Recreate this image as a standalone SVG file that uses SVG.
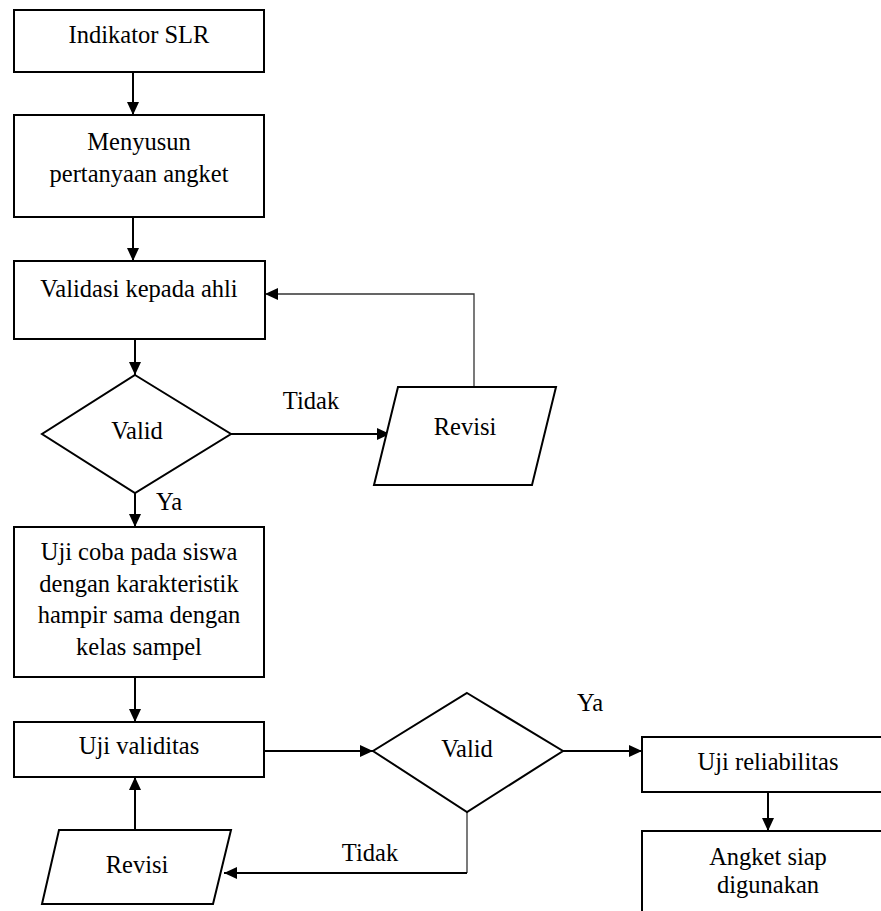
<svg xmlns="http://www.w3.org/2000/svg" width="881" height="911" viewBox="0 0 881 911">
  <style>
    .n { fill: #fff; stroke: #000; stroke-width: 2; }
    .t { font-family: "Liberation Serif", "Times New Roman", serif; font-size: 24.5px; fill: #000; text-anchor: middle; }
    .c { fill: none; stroke: #000; stroke-width: 2; }
    .thin { fill: none; stroke: #333; stroke-width: 1.3; }
  </style>
  <defs>
    <marker id="ah" markerUnits="userSpaceOnUse" markerWidth="14" markerHeight="12" viewBox="0 0 14 12" refX="13" refY="6" orient="auto">
      <path d="M0,0 L13,6 L0,12 z" fill="#000"/>
    </marker>
  </defs>
  <rect x="0" y="0" width="881" height="911" fill="#fff"/>

  <g id="connectors">
    <line class="c" x1="133" y1="72" x2="133" y2="115" marker-end="url(#ah)"/>
    <line class="c" x1="133" y1="217" x2="133" y2="261" marker-end="url(#ah)"/>
    <line class="c" x1="135" y1="339" x2="135" y2="375" marker-end="url(#ah)"/>
    <line class="c" x1="231" y1="434" x2="390" y2="434" marker-end="url(#ah)"/>
    <polyline class="thin" points="474,387 474,294 265,294" marker-end="url(#ah)"/>
    <line class="c" x1="135" y1="493" x2="135" y2="527" marker-end="url(#ah)"/>
    <line class="c" x1="135" y1="677" x2="135" y2="722" marker-end="url(#ah)"/>
    <line class="c" x1="264" y1="751" x2="373" y2="751" marker-end="url(#ah)"/>
    <line class="c" x1="563" y1="751" x2="642" y2="751" marker-end="url(#ah)"/>
    <line class="c" x1="768" y1="792" x2="768" y2="831" marker-end="url(#ah)"/>
    <line class="thin" x1="467" y1="812" x2="467" y2="873"/>
    <line class="c" x1="467" y1="873" x2="224" y2="873" marker-end="url(#ah)"/>
    <line class="c" x1="135" y1="830" x2="135" y2="777" marker-end="url(#ah)"/>
    <text class="t" x="311" y="409">Tidak</text>
    <text class="t" x="169" y="510">Ya</text>
    <text class="t" x="590" y="711">Ya</text>
    <text class="t" x="370" y="861">Tidak</text>
  </g>

  <g id="indikator">
    <rect class="n" x="14" y="10" width="250" height="62"/>
    <text class="t" x="139" y="43">Indikator SLR</text>
  </g>
  <g id="menyusun">
    <rect class="n" x="14" y="115" width="250" height="102"/>
    <text class="t" x="139" y="150">Menyusun</text>
    <text class="t" x="139" y="182">pertanyaan angket</text>
  </g>
  <g id="validasi">
    <rect class="n" x="14" y="261" width="251" height="78"/>
    <text class="t" x="139" y="297">Validasi kepada ahli</text>
  </g>
  <g id="valid1">
    <polygon class="n" points="135,375 231,434 135,493 42,434"/>
    <text class="t" x="137" y="439">Valid</text>
  </g>
  <g id="revisi1">
    <polygon class="n" points="398,387 556,387 532,485 374,485"/>
    <text class="t" x="465" y="435">Revisi</text>
  </g>
  <g id="ujicoba">
    <rect class="n" x="14" y="527" width="250" height="150"/>
    <text class="t" x="139" y="560">Uji coba pada siswa</text>
    <text class="t" x="139" y="592">dengan karakteristik</text>
    <text class="t" x="139" y="623">hampir sama dengan</text>
    <text class="t" x="139" y="655">kelas sampel</text>
  </g>
  <g id="ujivaliditas">
    <rect class="n" x="14" y="722" width="250" height="55"/>
    <text class="t" x="139" y="754">Uji validitas</text>
  </g>
  <g id="valid2">
    <polygon class="n" points="467,693 563,751 467,812 373,751"/>
    <text class="t" x="467" y="757">Valid</text>
  </g>
  <g id="revisi2">
    <polygon class="n" points="59,830 231,830 213,904 42,904"/>
    <text class="t" x="137" y="873">Revisi</text>
  </g>
  <g id="reliabilitas">
    <rect class="n" x="642" y="737" width="251" height="55"/>
    <text class="t" x="768" y="770">Uji reliabilitas</text>
  </g>
  <g id="angket">
    <rect class="n" x="642" y="831" width="251" height="100"/>
    <text class="t" x="768" y="865">Angket siap</text>
    <text class="t" x="768" y="893">digunakan</text>
  </g>
</svg>
